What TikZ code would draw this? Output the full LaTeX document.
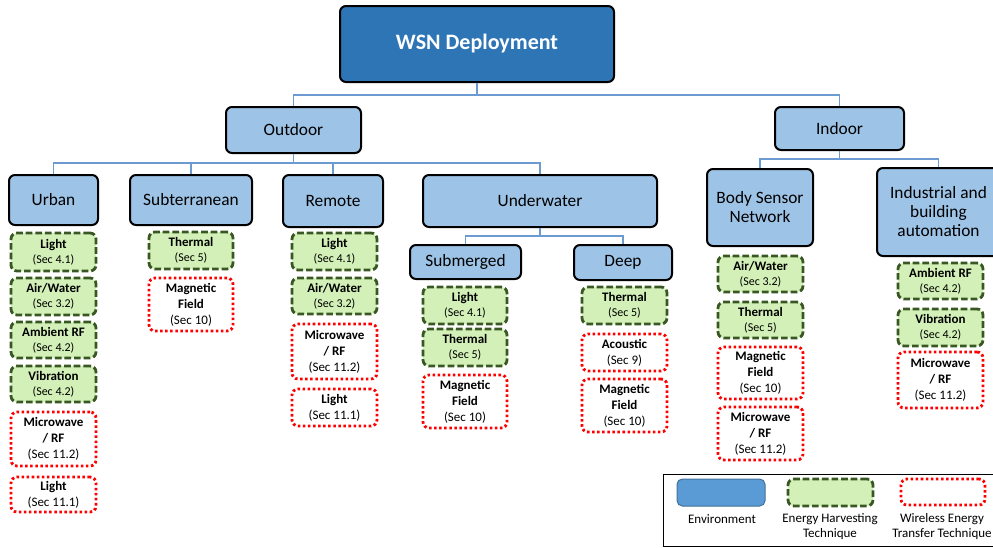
\documentclass[tikz,border=0pt]{standalone}
\usepackage{fontspec}
\setmainfont{Carlito}
\definecolor{envfill}{RGB}{157,195,230}
\definecolor{rootfill}{RGB}{46,117,182}
\definecolor{linkblue}{RGB}{108,155,210}
\definecolor{hfill}{RGB}{210,240,183}
\definecolor{hgreen}{RGB}{56,87,35}
\definecolor{legfill}{RGB}{91,155,213}
\definecolor{legborder}{RGB}{65,113,156}
\newcommand\secg[1]{{\fontsize{9}{10.9}\selectfont(Sec #1)}}
\tikzset{
 bx/.style n args={4}{minimum width={(#3-#1)*0.75pt}, minimum height={(#4-#2)*0.75pt}, at={({(#1+#3)/2},{(#2+#4)/2})}},
 envbox/.style={draw=black, line width=1.5pt, fill=envfill, rounded corners=4.5pt, inner sep=0pt, align=center, font=\fontsize{13}{14.25}\selectfont},
 rootbox/.style={envbox, fill=rootfill, text=white, font=\fontsize{16.5}{19}\selectfont\bfseries},
 harvbox/.style={draw=hgreen, fill=hfill, line width=2.1pt, dash pattern=on 5pt off 2.2pt, rounded corners=4.5pt, inner sep=0pt, align=center, font=\fontsize{9.75}{10.9}\selectfont},
 wetbox/.style={draw=red, fill=white, line width=2.1pt, dash pattern=on 1.9pt off 1.9pt, rounded corners=4.5pt, inner sep=0pt, align=center, font=\fontsize{9.75}{12}\selectfont},
 link/.style={draw=linkblue, line width=1pt},
 legtext/.style={align=center, inner sep=0pt, font=\fontsize{9.75}{11.25}\selectfont},
}
\begin{document}
\begin{tikzpicture}[x=0.75pt, y=-0.75pt]
\useasboundingbox (0,0) rectangle (993,547);
\clip (0,0) rectangle (993,547);
% environment nodes
\node[rootbox, bx={340}{6}{614}{82}] (wsn) {WSN Deployment};
\node[envbox, bx={226}{107}{361}{153}] (outdoor) {Outdoor};
\node[envbox, bx={775}{107}{904}{150}] (indoor) {Indoor};
\node[envbox, bx={9}{175}{98}{225}] (urban) {Urban};
\node[envbox, bx={130}{175}{252}{225}] (subt) {Subterranean};
\node[envbox, bx={283}{175}{383}{227}] (remote) {Remote};
\node[envbox, bx={423}{175}{657}{227}] (under) {Underwater};
\node[envbox, bx={707}{169}{813}{246}] (bsn) {Body Sensor\\Network};
\node[envbox, bx={877}{168}{1000}{256}] (indust) {Industrial and\\building\\automation};
\node[envbox, bx={410}{245}{521}{279}] (subm) {Submerged};
\node[envbox, bx={574}{245}{672}{280}] (deep) {Deep};
% connectors
\coordinate (bus0) at (0,95);
\coordinate (bus1) at (0,163);
\coordinate (bus2) at (0,159);
\coordinate (bus3) at (0,236);
\draw[link] (wsn.south) -- (wsn.south |- bus0) -| (outdoor.north);
\draw[link] (wsn.south) -- (wsn.south |- bus0) -| (indoor.north);
\foreach \c in {urban,subt,remote,under}
  \draw[link] (outdoor.south) -- (outdoor.south |- bus1) -| (\c.north);
\foreach \c in {bsn,indust}
  \draw[link] (indoor.south) -- (indoor.south |- bus2) -| (\c.north);
\foreach \c in {subm,deep}
  \draw[link] (under.south) -- (under.south |- bus3) -| (\c.north);
% Urban
\node[harvbox, bx={11}{233}{96}{271}] (u1) {\textbf{Light}\\\secg{4.1}};
\node[harvbox, bx={11}{278}{96}{315}] (u2) {\textbf{Air/Water}\\\secg{3.2}};
\node[harvbox, bx={11}{322}{96}{358}] (u3) {\textbf{Ambient RF}\\\secg{4.2}};
\node[harvbox, bx={11}{366}{96}{402}] (u4) {\textbf{Vibration}\\\secg{4.2}};
\node[wetbox, bx={11}{412}{96}{466}] (u5) {\textbf{Microwave}\\\textbf{/ RF}\\(Sec 11.2)};
\node[wetbox, bx={11}{477}{96}{512}] (u6) {\textbf{Light}\\(Sec 11.1)};
% Subterranean
\node[harvbox, bx={149}{232}{233}{269}] (s1) {\textbf{Thermal}\\\secg{5}};
\node[wetbox, bx={149}{278}{233}{331}] (s2) {\textbf{Magnetic}\\\textbf{Field}\\(Sec 10)};
% Remote
\node[harvbox, bx={292}{233}{377}{270}] (r1) {\textbf{Light}\\\secg{4.1}};
\node[harvbox, bx={292}{278}{377}{314}] (r2) {\textbf{Air/Water}\\\secg{3.2}};
\node[wetbox, bx={292}{324}{377}{379}] (r3) {\textbf{Microwave}\\\textbf{/ RF}\\(Sec 11.2)};
\node[wetbox, bx={292}{389}{377}{426}] (r4) {\textbf{Light}\\(Sec 11.1)};
% Submerged
\node[harvbox, bx={423}{287}{507}{324}] (m1) {\textbf{Light}\\\secg{4.1}};
\node[harvbox, bx={423}{329}{507}{366}] (m2) {\textbf{Thermal}\\\secg{5}};
\node[wetbox, bx={423}{375}{507}{428}] (m3) {\textbf{Magnetic}\\\textbf{Field}\\(Sec 10)};
% Deep
\node[harvbox, bx={582}{287}{667}{324}] (d1) {\textbf{Thermal}\\\secg{5}};
\node[wetbox, bx={582}{334}{667}{371}] (d2) {\textbf{Acoustic}\\(Sec 9)};
\node[wetbox, bx={582}{379}{667}{432}] (d3) {\textbf{Magnetic}\\\textbf{Field}\\(Sec 10)};
% Body sensor network
\node[harvbox, bx={718}{256}{803}{292}] (b1) {\textbf{Air/Water}\\\secg{3.2}};
\node[harvbox, bx={718}{302}{803}{338}] (b2) {\textbf{Thermal}\\\secg{5}};
\node[wetbox, bx={718}{347}{803}{399}] (b3) {\textbf{Magnetic}\\\textbf{Field}\\(Sec 10)};
\node[wetbox, bx={718}{407}{803}{460}] (b4) {\textbf{Microwave}\\\textbf{/ RF}\\(Sec 11.2)};
% Industrial
\node[harvbox, bx={898}{263}{983}{299}] (i1) {\textbf{Ambient RF}\\\secg{4.2}};
\node[harvbox, bx={898}{309}{983}{346}] (i2) {\textbf{Vibration}\\\secg{4.2}};
\node[wetbox, bx={898}{352}{983}{408}] (i3) {\textbf{Microwave}\\\textbf{/ RF}\\(Sec 11.2)};
% legend
\node[draw=black, line width=0.75pt, inner sep=0pt, bx={663}{474}{1005}{546}] (legend) {};
\node[draw=legborder, fill=legfill, line width=0.75pt, rounded corners=4pt, inner sep=0pt, bx={677}{479}{765}{506}] (lenv) {};
\node[harvbox, bx={788}{479}{873}{506}] (lharv) {};
\node[wetbox, bx={901}{479}{985}{505}] (lwet) {};
\node[legtext] (tenv) at (722,519) {Environment};
\node[legtext] (tharv) at (830,526.5) {Energy Harvesting\\Technique};
\node[legtext] (twet) at (942,526.5) {Wireless Energy\\Transfer Technique};
\end{tikzpicture}
\end{document}
